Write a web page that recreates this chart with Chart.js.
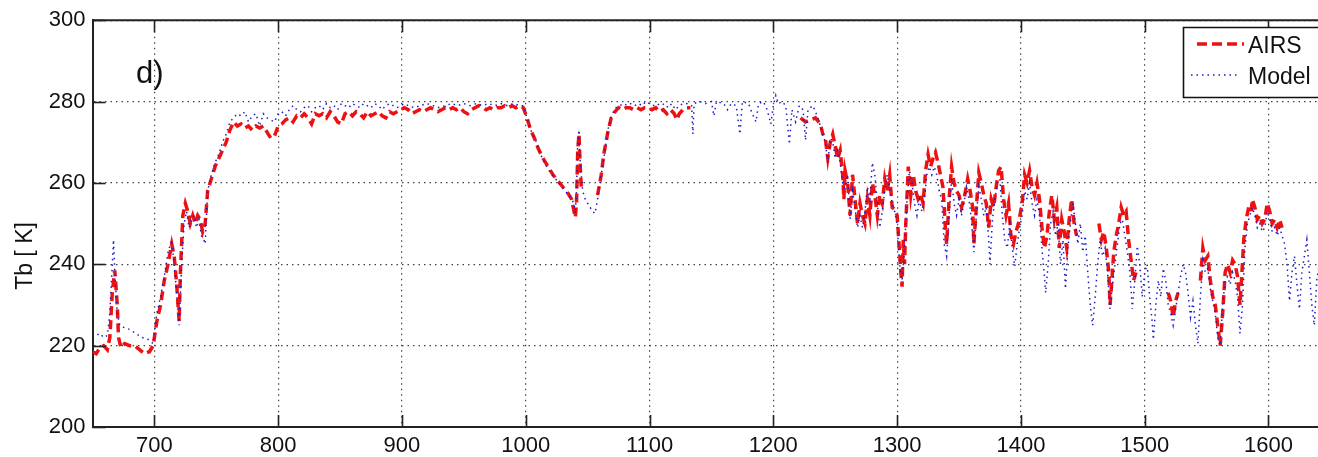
<!DOCTYPE html>
<html>
<head>
<meta charset="utf-8">
<script src="https://cdn.jsdelivr.net/npm/chart.js@4.4.1/dist/chart.umd.min.js"></script>
<style>
html, body { margin: 0; padding: 0; background: #fff; overflow: hidden; }
#wrap { width: 1318px; height: 457px; }
</style>
</head>
<body>
<div id="wrap"><canvas id="grafica" width="1318" height="457"></canvas></div>
<script>
// ejes
const xTicks = [700, 800, 900, 1000, 1100, 1200, 1300, 1400, 1500, 1600];
const yTicks = [200, 220, 240, 260, 280, 300];
const xMin = 650, xMax = 1640;
const yMin = 200, yMax = 300;

const seriesNames = ["AIRS", "Model"];
const panelLabel = "d)";
const yTitle = "Tb [ K]";

// AIRS: [numero de onda, Tb]; null = sin dato
const airsSpectrum = [
  [650,218.5],[653,218],[656,219.5],[659,220],[662,219],[664,222],[666,233],[668,238.5],[670,230],[671,222],
  [673,219.5],[676,220.5],[680,220],[684,220],[688,219],[692,218],[696,218.5],[699,220],
  [702,226],[705,230],[708,236],[711,240],[714,245],[716,242],[718,235],[720,226],[721,238],[723,252],
  [725,255],[727,253],[729,250],[731,252],[733,250],[735,252],[737,251],[739,248],[741,250],[743,258],
  [746,261],[749,264],[752,266],[755,268],[758,270],[761,273],[764,275],[767,274],[770,274.5],[773,273.5],
  [776,274],[779,273],[782,274],[785,273.5],[788,274],[791,272.5],[794,271],[797,271.5],
  [800,274],[803,274.5],[806,275.5],[809,276],[812,275],[815,276.5],[818,276],[821,277],[824,276],[827,274.5],
  [830,277],[833,276.5],[836,277],[839,276],[842,277.5],[845,276.5],[848,275],[851,274.5],[854,277],[857,277.5],
  [860,276.5],[863,277.5],[866,277],[869,276],[872,277.5],[875,276.5],[878,277],[881,277.5],[884,276.5],[887,276],
  [890,277.5],[893,277],[896,277.5],[899,278],[902,278.5],[905,278],[908,277],[911,277.5],[914,278],[917,277.5],
  [920,278],[923,278.5],[926,278],[929,277.5],[932,278],[935,278.5],[938,278],[941,278.5],[944,278],[947,278.5],
  [950,277.5],[953,277],[956,278],[959,278.5],[962,279],[965,278.5],[968,278],[971,278.5],[974,278],[977,278.5],
  [980,278.5],[983,279],[986,278.5],[989,279],[992,278.5],[995,279],[998,278.5],
  [1001,276],[1004,273],[1007,271],[1010,268.5],[1014,266],[1018,264],[1022,262],[1026,260.5],[1030,259],[1034,257.5],
  [1037,256],[1039,253],[1040,251.5],[1041,255],[1042,268],[1043,272],[1044,264],[1045,258],[1050,null],
  [1058,257],[1061,262],[1063,267],[1066,272],[1069,276],[1072,277.5],[1075,278.5],[1078,278],[1081,278.5],[1084,278.5],
  [1087,278],[1090,278.5],[1093,278],[1096,278.5],[1099,278.5],[1102,278],[1105,278.5],[1108,277.5],[1111,278],[1114,277],
  [1117,278],[1120,277],[1122,275.5],[1124,277],[1127,278],[1130,278.5],[1133,278.5],[1180,null],
  [1222,276],[1226,275],[1230,275.5],[1234,276],[1238,274.5],[1240,272],[1242,271],[1244,266],[1246,270],[1248,272],
  [1250,269],[1252,266],[1254,268],[1256,262],[1257,256],[1258,263],[1260,260],[1262,252],[1264,262],[1266,256],
  [1268,250],[1270,255],[1272,252],[1274,250],[1276,256],[1278,252],[1280,260],[1282,257],[1284,252],[1286,257],
  [1288,255],[1290,261],[1292,258],[1294,262],[1296,254],[1298,253.5],[1300,252],[1302,243],[1303,238],[1304,234.5],
  [1305,246],[1306,240],[1307,250],[1309,264],[1311,257],[1313,262],[1315,258],[1317,256],[1319,257],[1321,255],
  [1323,263],[1325,267],[1327,264],[1329,266],[1331,267.5],[1333,265],[1335,262],[1337,259],[1339,249],[1340,245],
  [1342,256],[1344,264],[1346,260],[1348,258],[1350,257],[1352,254],[1354,256],[1357,261],[1359,258],[1361,254],
  [1362,245],[1364,254],[1366,262.5],[1368,260],[1370,257],[1372,255],[1374,249],[1376,256],[1378,254],[1380,259],
  [1382,263],[1384,264],[1386,256],[1388,252],[1390,255],[1392,247],[1394,245],[1396,248],[1398,250],[1401,255],
  [1403,262],[1405,260],[1407,263],[1409,259],[1411,257],[1413,260],[1415,256],[1417,249],[1419,244],[1421,247],
  [1423,253],[1425,257],[1427,251],[1429,254],[1431,244],[1433,251],[1435,248],[1437,244],[1439,251],[1441,256],
  [1443,250],[1445,247],[1454,null],
  [1463,250],[1465,246],[1467,248],[1469,244],[1471,238],[1472,230],[1473,234],[1475,243],[1477,247],[1479,250],
  [1481,254],[1483,252],[1485,253],[1487,246],[1489,241],[1491,236],[1493,238],[1505,null],
  [1519,233],[1521,231],[1523,227],[1525,231],[1527,233],[1536,null],
  [1545,236],[1547,244],[1549,241],[1551,242],[1553,236],[1555,232],[1557,230],[1559,225],[1561,220],[1563,228],
  [1565,238],[1567,240],[1569,238],[1571,241],[1573,240],[1575,237],[1577,230],[1578,235],[1580,246],[1582,251],
  [1584,254],[1586,253],[1587,256],[1589,254],[1591,251],[1593,252],[1595,250],[1597,251],[1599,255],[1601,253],
  [1603,250],[1605,251],[1607,249],[1609,251],[1611,249]
];

// Modelo: [numero de onda, Tb]
const modelSpectrum = [
  [650,223],[653,222.5],[656,223],[659,222],[662,222.5],[664,228],[666,240],[667,246],[668,238],[670,228],
  [672,225],[675,224.5],[680,224],[685,223],[690,222],[695,221.5],[699,220.5],
  [702,228],[705,232],[708,237],[711,243],[714,246],[716,240],[718,233],[720,225],[722,240],
  [724,250],[726,253],[728,249],[730,251],[732,252],[734,249],[736,251],[738,247],[740,246],[741,245],
  [743,258],[746,262],[749,265],[752,267],[755,270],[758,272],[761,275],[764,276],[767,277],[770,276.5],
  [773,277.5],[776,275],[779,276.5],[782,277],[785,274],[788,277],[791,276],[794,275.5],[797,275],
  [800,277],[803,277.5],[806,276.5],[809,278],[812,279],[815,278],[818,277.5],[821,278.5],[824,279],[827,277.5],
  [830,278.5],[833,279],[836,278],[839,279.5],[842,278.5],[845,279],[848,278],[851,279.5],[854,279],[857,278.5],
  [860,279.5],[863,279],[866,278.5],[869,279.5],[872,279],[875,278.5],[878,279.5],[881,279],[884,278],[887,279],
  [890,279.5],[893,279],[896,278.5],[899,279],[902,279.5],[905,279],[910,278.5],[915,279],[920,279.5],[925,279],
  [930,278.5],[935,279],[940,279.5],[945,279],[950,279.5],[955,279],[960,279.5],[965,279],[970,279.5],[975,279],
  [980,279.5],[985,279],[990,279.5],[995,279],[998,279],
  [1001,276],[1004,273],[1008,270.5],[1012,267],[1016,264.5],[1020,262.5],[1024,261],[1028,259.5],[1032,258],[1036,256.5],
  [1039,255],[1040,252.5],[1041,258],[1042,270],[1043,273],[1044,265],[1046,258],[1048,256],[1050,255],[1052,254],
  [1054,253],[1056,252.5],[1058,256],[1061,262],[1064,268],[1067,274],[1070,277],[1073,278.5],[1076,279],[1079,279.5],
  [1082,279],[1085,279.5],[1088,279],[1091,279.5],[1094,279],[1097,280],[1100,279.5],[1103,279],[1106,279.5],[1109,279],
  [1112,279.5],[1115,278.5],[1118,279.5],[1121,278],[1124,279],[1127,279.5],[1130,279.5],[1133,279],[1134,279],[1135,272],
  [1136,279.5],[1140,280],[1145,279.5],[1150,280],[1152,276.5],[1154,280],[1160,279.5],[1163,278],[1166,279.5],[1170,279],
  [1173,272],[1175,280],[1180,279.5],[1183,277],[1186,275],[1188,279.5],[1192,280],[1195,278],[1198,274.5],[1200,279],
  [1202,281.5],[1204,279.5],[1207,280],[1210,279],[1213,269.5],[1215,278],[1218,275],[1221,279],[1224,278],[1226,270.5],
  [1228,278],[1232,279],[1236,276],[1240,272],[1242,270],[1244,265],[1246,271],[1248,270],[1250,266],[1252,268],
  [1254,265],[1256,260],[1258,258],[1260,262],[1262,251],[1264,258],[1266,254],[1268,249],[1270,252],[1272,249],
  [1274,253],[1276,259],[1278,256],[1280,265],[1282,262],[1284,255],[1286,249],[1288,253],[1290,258],[1292,262],
  [1294,259],[1296,255],[1298,253],[1300,250],[1302,240],[1304,236],[1306,244],[1308,256],[1310,263],[1312,260],
  [1314,255],[1316,252],[1318,256],[1320,253],[1322,256],[1324,262],[1326,264],[1328,262],[1330,264],[1332,262],
  [1334,258],[1336,256],[1338,245],[1340,242],[1342,252],[1344,261],[1346,255],[1348,252],[1350,256],[1352,252],
  [1354,255],[1356,259],[1358,256],[1360,251],[1362,243],[1364,252],[1366,259],[1368,256],[1370,252],[1372,254],
  [1374,246],[1375,240],[1377,251],[1379,256],[1381,260],[1383,261],[1385,252],[1387,246],[1389,244],[1391,250],
  [1393,244],[1395,239.5],[1397,245],[1399,249],[1401,252],[1403,258],[1405,256],[1407,260],[1409,255],[1411,252],
  [1413,256],[1415,252],[1417,244],[1419,237],[1420,233],[1422,240],[1424,250],[1426,253],[1428,247],[1430,250],
  [1432,240],[1434,246],[1436,234],[1438,244],[1440,250],[1442,255],[1444,250],[1446,245],[1448,250],[1450,243],
  [1452,247],[1454,238],[1456,230],[1458,225],[1460,232],[1462,240],[1464,246],[1466,242],[1468,244],[1470,238],
  [1472,229],[1474,235],[1476,240],[1478,245],[1480,250],[1482,251],[1484,247],[1486,243],[1488,238],[1490,229],
  [1492,236],[1494,244.5],[1496,240],[1498,232],[1500,238],[1502,240],[1504,232],[1506,226],[1507,221.5],[1509,230],
  [1511,236],[1513,232],[1515,239],[1517,236],[1519,230],[1521,228],[1523,225],[1525,229],[1527,233],[1529,237],
  [1531,240],[1533,238],[1535,233],[1537,227],[1539,231],[1541,225],[1543,220.5],[1545,232],[1547,241],[1549,238],
  [1551,239],[1553,234],[1555,231],[1557,228],[1559,222],[1561,220],[1563,230],[1565,236],[1567,237],[1569,235],
  [1571,238],[1573,236],[1575,232],[1577,223],[1579,230],[1581,244],[1583,250],[1585,252],[1587,254],[1589,252],
  [1591,249],[1593,250],[1595,248],[1597,249],[1599,253],[1601,251],[1603,248],[1605,249],[1607,247],[1609,249],
  [1611,247],[1613,245],[1615,240],[1617,231],[1619,238],[1621,242],[1623,235],[1625,229],[1627,238],[1629,242],
  [1631,246],[1633,238],[1635,230],[1637,225],[1639,236],[1641,240]
];

const fuente = "'Liberation Sans', Arial, Helvetica, sans-serif";
const rojo = "#ee1111";
const azul = "#1c1cc8";

function aPuntos(lista) {
  return lista.map(p => ({ x: p[0], y: p[1] }));
}

// marcas hacia dentro, caja de leyenda, textos sueltos
const decoracion = {
  id: "decoracion",
  afterDraw(chart) {
    const ctx = chart.ctx;
    const area = chart.chartArea;
    const sx = chart.scales.x;
    const sy = chart.scales.y;
    const fin = chart.width + 10;
    ctx.save();

    // borde superior
    ctx.strokeStyle = "#222";
    ctx.lineWidth = 2;
    ctx.beginPath();
    ctx.moveTo(area.left, area.top);
    ctx.lineTo(fin, area.top);
    ctx.stroke();

    // ticks hacia dentro
    ctx.lineWidth = 1.6;
    xTicks.forEach(v => {
      const px = Math.round(sx.getPixelForValue(v)) + 0.5;
      ctx.beginPath();
      ctx.moveTo(px, area.bottom);
      ctx.lineTo(px, area.bottom - 12);
      ctx.moveTo(px, area.top);
      ctx.lineTo(px, area.top + 12);
      ctx.stroke();
    });
    yTicks.forEach(v => {
      const py = Math.round(sy.getPixelForValue(v)) + 0.5;
      ctx.beginPath();
      ctx.moveTo(area.left, py);
      ctx.lineTo(area.left + 13, py);
      ctx.stroke();
    });

    // leyenda: caja abierta por la derecha (cortada por el borde)
    const lx = 1183.5, ly = 27.5, lh = 70;
    ctx.fillStyle = "#fff";
    ctx.fillRect(lx, ly, fin - lx, lh);
    ctx.strokeStyle = "#111";
    ctx.lineWidth = 1.6;
    ctx.beginPath();
    ctx.moveTo(fin, ly);
    ctx.lineTo(lx, ly);
    ctx.lineTo(lx, ly + lh);
    ctx.lineTo(fin, ly + lh);
    ctx.stroke();

    ctx.lineWidth = 3.5;
    ctx.strokeStyle = rojo;
    ctx.setLineDash([10, 5]);
    ctx.beginPath();
    ctx.moveTo(1197, 44);
    ctx.lineTo(1244, 44);
    ctx.stroke();

    ctx.lineWidth = 1.5;
    ctx.strokeStyle = azul;
    ctx.setLineDash([1.5, 4]);
    ctx.beginPath();
    ctx.moveTo(1191, 75);
    ctx.lineTo(1240, 75);
    ctx.stroke();
    ctx.setLineDash([]);

    ctx.fillStyle = "#111";
    ctx.font = "23px " + fuente;
    ctx.textAlign = "left";
    ctx.textBaseline = "alphabetic";
    ctx.fillText(seriesNames[0], 1248, 53);
    ctx.fillText(seriesNames[1], 1248, 84);

    // etiqueta del panel
    ctx.font = "31px " + fuente;
    ctx.fillText(panelLabel, 136, 83);

    // titulo eje y
    ctx.font = "23px " + fuente;
    ctx.translate(26, 256);
    ctx.rotate(-Math.PI / 2);
    ctx.textAlign = "center";
    ctx.textBaseline = "middle";
    ctx.fillText(yTitle, 0, 0);

    ctx.restore();
  }
};

const ctx = document.getElementById("grafica").getContext("2d");

new Chart(ctx, {
  type: "line",
  data: {
    datasets: [
      {
        label: seriesNames[0],
        data: aPuntos(airsSpectrum),
        borderColor: rojo,
        borderWidth: 3.5,
        borderDash: [9, 5],
        pointRadius: 0,
        pointHoverRadius: 0,
        tension: 0,
        spanGaps: false,
        fill: false,
        order: 2
      },
      {
        label: seriesNames[1],
        data: aPuntos(modelSpectrum),
        borderColor: azul,
        borderWidth: 1.5,
        borderDash: [1.5, 4],
        pointRadius: 0,
        pointHoverRadius: 0,
        tension: 0,
        spanGaps: false,
        fill: false,
        order: 1
      }
    ]
  },
  options: {
    responsive: false,
    devicePixelRatio: 1,
    animation: false,
    layout: { autoPadding: false, padding: { top: 17, right: 0, left: 0, bottom: 0 } },
    plugins: {
      legend: { display: false },
      tooltip: { enabled: false }
    },
    scales: {
      x: {
        type: "linear",
        min: xMin,
        max: xMax,
        afterBuildTicks: s => { s.ticks = xTicks.map(v => ({ value: v })); },
        afterFit: s => { s.height = 30; },
        grid: { color: "#444", lineWidth: 1.2, drawTicks: false },
        border: { color: "#222", width: 2, dash: [1.5, 4] },
        ticks: {
          font: { family: fuente, size: 22 },
          color: "#111",
          padding: 6,
          maxRotation: 0,
          autoSkip: false,
          callback: v => String(v)
        }
      },
      y: {
        min: yMin,
        max: yMax,
        afterBuildTicks: s => { s.ticks = yTicks.map(v => ({ value: v })); },
        afterFit: s => { s.width = 92.5; },
        grid: { color: "#444", lineWidth: 1.2, drawTicks: false },
        border: { color: "#222", width: 2, dash: [1.5, 4] },
        ticks: {
          font: { family: fuente, size: 22 },
          color: "#111",
          padding: 7,
          callback: v => String(v)
        }
      }
    }
  },
  plugins: [decoracion]
});
</script>
</body>
</html>
